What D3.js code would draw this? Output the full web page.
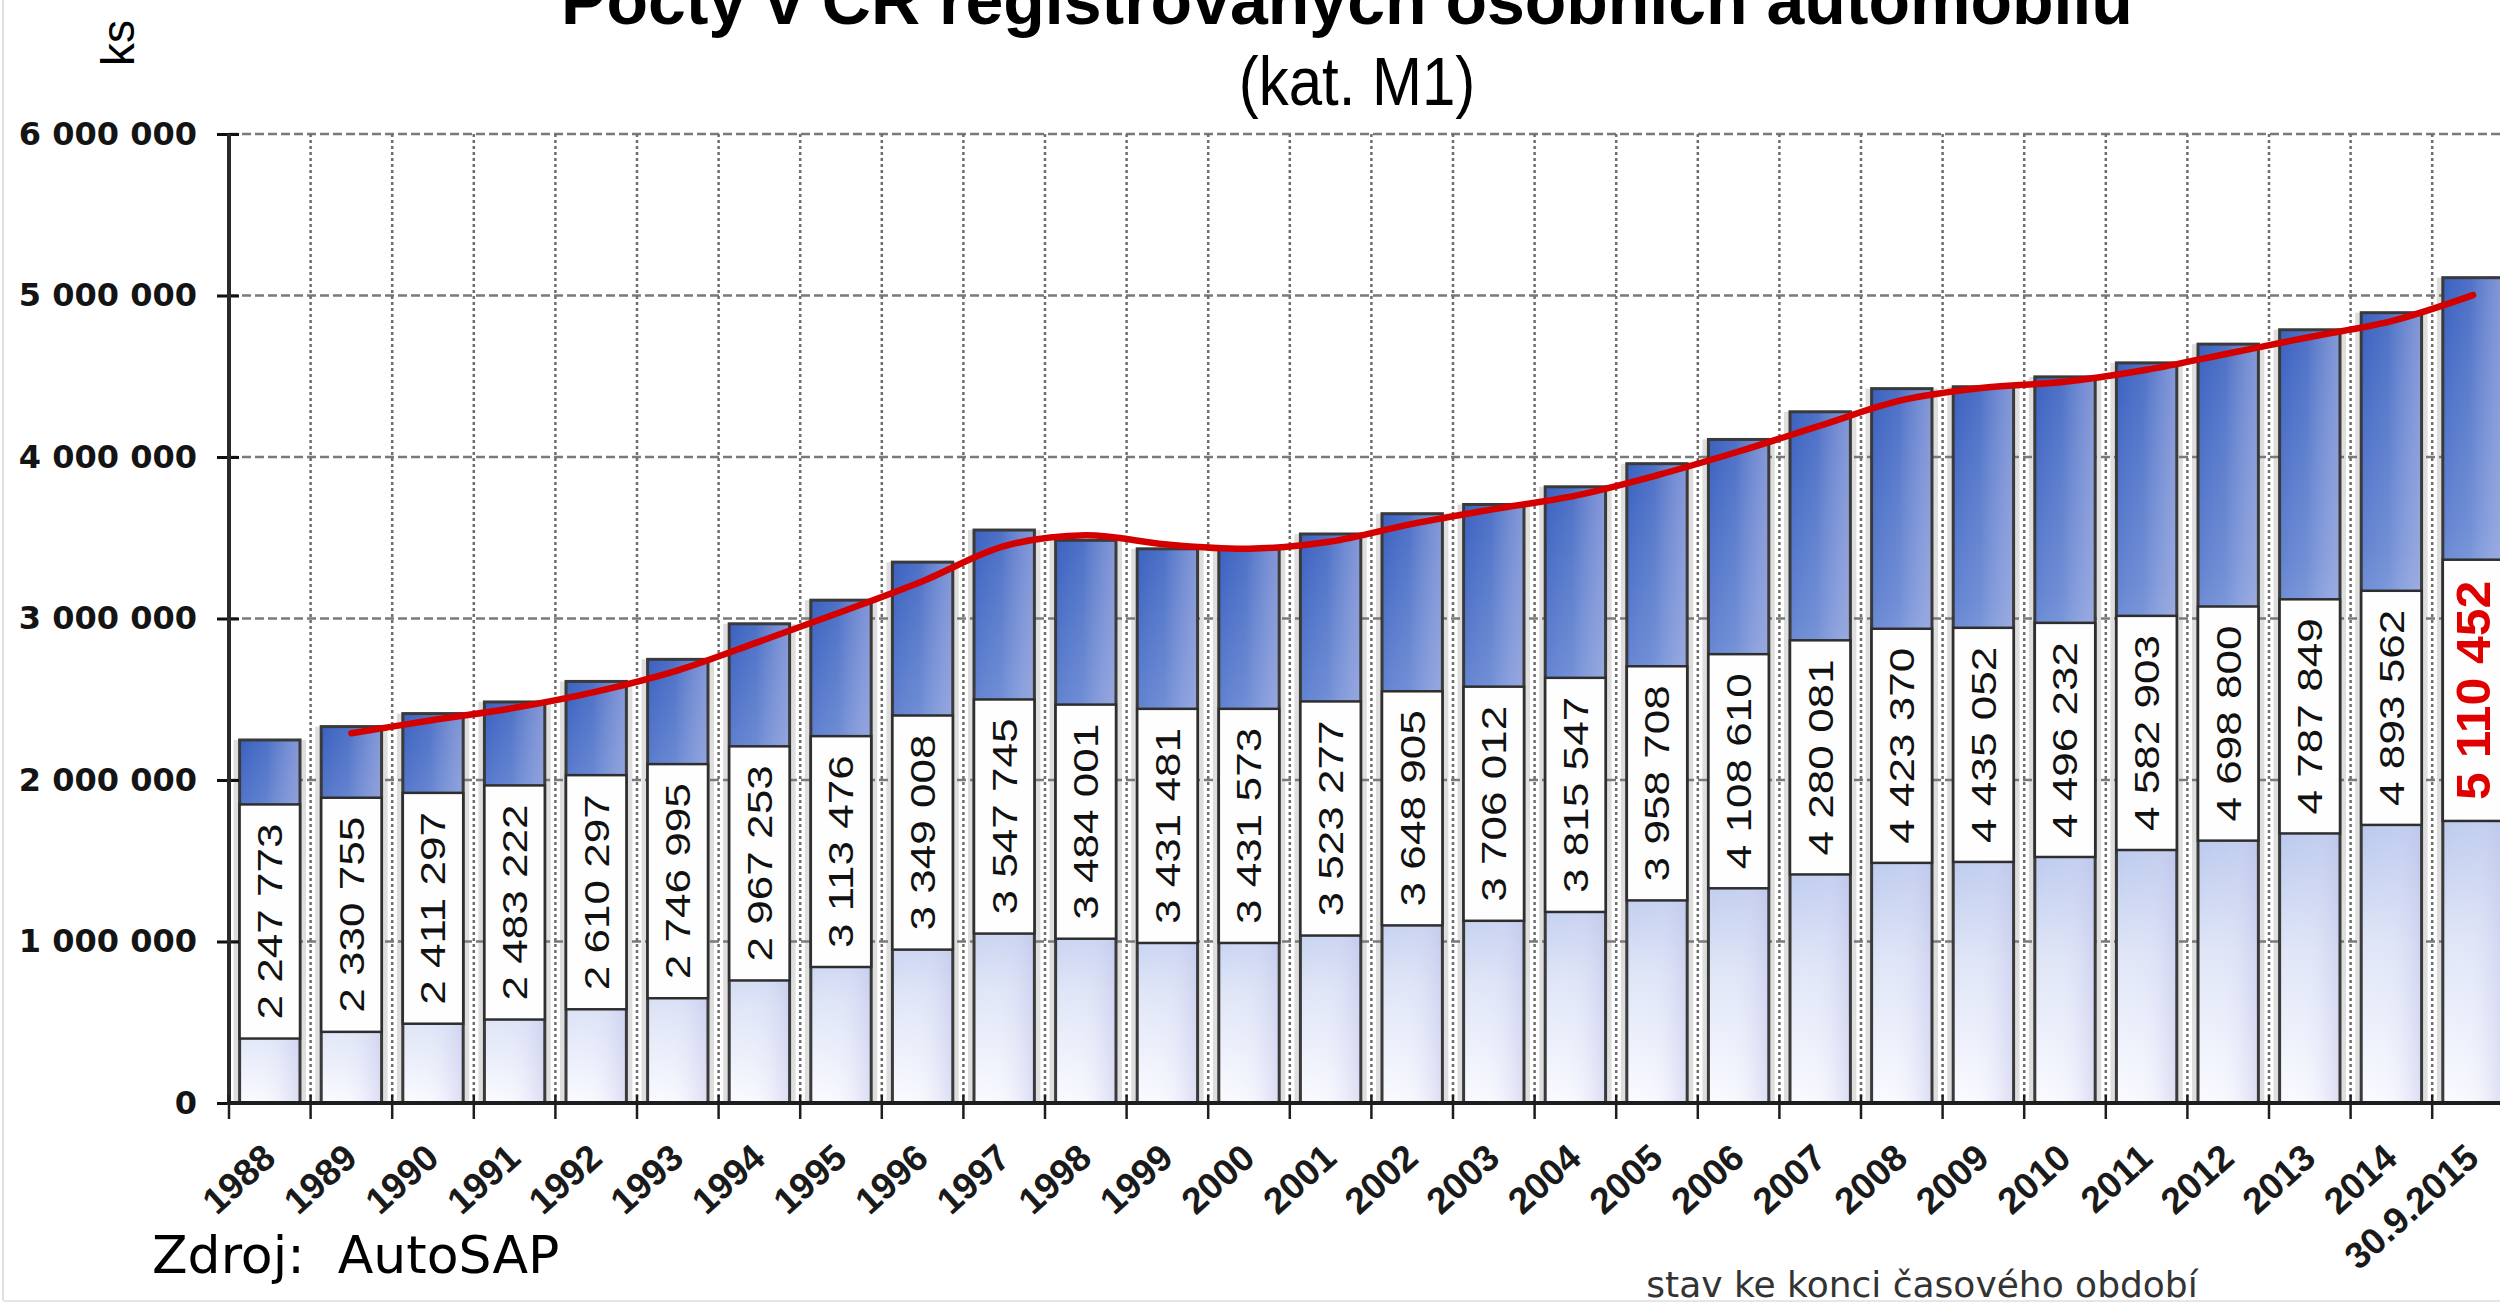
<!DOCTYPE html>
<html>
<head>
<meta charset="utf-8">
<script src="https://cdn.jsdelivr.net/npm/d3@7"></script>
<style>
  html, body { margin: 0; padding: 0; background: #ffffff; overflow: hidden; }
  svg { display: block; }
</style>
</head>
<body>
<svg id="chart" width="2500" height="1306"></svg>
<script>
// ---------- DATA ----------
const categories = ["1988","1989","1990","1991","1992","1993","1994","1995","1996","1997",
  "1998","1999","2000","2001","2002","2003","2004","2005","2006","2007","2008","2009",
  "2010","2011","2012","2013","2014","30.9.2015"];

const registeredCars = [2247773, 2330755, 2411297, 2483222, 2610297, 2746995, 2967253,
  3113476, 3349008, 3547745, 3484001, 3431481, 3431573, 3523277, 3648905, 3706012,
  3815547, 3958708, 4108610, 4280081, 4423370, 4435052, 4496232, 4582903, 4698800,
  4787849, 4893562, 5110452];

// red trend line (2-period moving average), 1989 .. 30.9.2015
const trendCategories = ["1989","1990","1991","1992","1993","1994","1995","1996","1997",
  "1998","1999","2000","2001","2002","2003","2004","2005","2006","2007","2008","2009",
  "2010","2011","2012","2013","2014","30.9.2015"];
const trendValues = [2289000, 2371000, 2447000, 2547000, 2679000, 2857000, 3040000,
  3231000, 3448000, 3516000, 3458000, 3432000, 3477000, 3586000, 3677000, 3761000,
  3887000, 4034000, 4194000, 4352000, 4429000, 4466000, 4540000, 4641000, 4743000,
  4841000, 5002000];

const yTickValues = [0, 1000000, 2000000, 3000000, 4000000, 5000000, 6000000];
const yTickLabels = ["0", "1 000 000", "2 000 000", "3 000 000", "4 000 000", "5 000 000", "6 000 000"];

const titleText = "Počty v ČR registrovaných osobních automobilů";
const subtitleText = "(kat. M1)";
const unitText = "ks";
const xAxisTitle = "stav ke konci časového období";
const sourceText = "Zdroj:  AutoSAP";

// ---------- CHART ----------
const svg = d3.select("#chart");
const W = 2500, H = 1306;
const plotLeft = 229, step = 81.6;
const plotRight = plotLeft + step * categories.length;
const plotTop = 134, plotBottom = 1103;

const x = d3.scaleBand().domain(categories).range([plotLeft, plotRight])
  .paddingInner(0.26).paddingOuter(0.13);
const y = d3.scaleLinear().domain([0, 6000000]).range([plotBottom, plotTop]);
const bw = x.bandwidth();
const half = (x.step() - bw) / 2;
const boundaries = categories.map(c => x(c) - half).concat([x(categories[categories.length - 1]) + bw + half]);

const fmt = v => d3.format(",")(v).replace(/,/g, " ");
const data = categories.map((c, i) => ({ c, v: registeredCars[i] }));

// defs
const defs = svg.append("defs");
const gV = defs.append("linearGradient").attr("id", "barV")
  .attr("x1", 0).attr("y1", 0).attr("x2", 0).attr("y2", 1);
[[0, "#3a61c0"], [0.3, "#6283d1"], [0.6, "#adbfea"], [0.8, "#dfe5f7"], [1, "#fafbff"]]
  .forEach(([o, c]) => gV.append("stop").attr("offset", o).attr("stop-color", c));
const gH = defs.append("linearGradient").attr("id", "barH")
  .attr("x1", 0).attr("y1", 0).attr("x2", 1).attr("y2", 0);
[[0, "#ffffff", 0], [0.45, "#e4e6f8", 0.12], [1, "#c2c4ea", 0.55]]
  .forEach(([o, c, op]) => gH.append("stop").attr("offset", o).attr("stop-color", c).attr("stop-opacity", op));

// frame
svg.append("line").attr("x1", 3).attr("x2", 3).attr("y1", 0).attr("y2", 1301)
  .attr("stroke", "#e0e0e0").attr("stroke-width", 2);
svg.append("line").attr("x1", 3).attr("x2", W).attr("y1", 1301).attr("y2", 1301)
  .attr("stroke", "#e6e6e6").attr("stroke-width", 2);

// bar glow (gray strip beside bars)
svg.append("g").selectAll("rect").data(data).join("rect")
  .attr("x", d => x(d.c) - 6).attr("width", bw + 12)
  .attr("y", d => y(d.v)).attr("height", d => y(0) - y(d.v))
  .attr("fill", "#dedede");

// horizontal grid
svg.append("g").selectAll("line").data(yTickValues.filter(v => v > 0)).join("line")
  .attr("x1", plotLeft).attr("x2", W + 20)
  .attr("y1", d => y(d)).attr("y2", d => y(d))
  .attr("stroke", "#7a7a7a").attr("stroke-width", 2.5).attr("stroke-dasharray", "9,4");

// vertical grid
svg.append("g").selectAll("line").data(boundaries.slice(1)).join("line")
  .attr("x1", d => d).attr("x2", d => d)
  .attr("y1", y(6000000)).attr("y2", y(0))
  .attr("stroke", "#6e6e6e").attr("stroke-width", 2.5).attr("stroke-dasharray", "3,3");

// bars
const bars = svg.append("g");
bars.selectAll("rect.b").data(data).join("rect").attr("class", "b")
  .attr("x", d => x(d.c)).attr("width", bw)
  .attr("y", d => y(d.v)).attr("height", d => y(0) - y(d.v))
  .attr("fill", "url(#barV)");
bars.selectAll("rect.h").data(data).join("rect").attr("class", "h")
  .attr("x", d => x(d.c)).attr("width", bw)
  .attr("y", d => y(d.v)).attr("height", d => y(0) - y(d.v))
  .attr("fill", "url(#barH)")
  .attr("stroke", "#3a3a3a").attr("stroke-width", 3);

// value labels in white boxes
const lastCat = categories[categories.length - 1];
const labelG = svg.append("g");
data.forEach(d => {
  const isLast = d.c === lastCat;
  const fs = isLast ? 48 : 35;
  const stretch = isLast ? 1.04 : 1.26;
  const cx = x(d.c) + bw / 2;
  const cy = y(d.v / 2);
  const box = labelG.append("rect");
  const t = labelG.append("text")
    .attr("transform", `translate(${cx},${cy}) scale(1,${stretch}) rotate(-90)`)
    .attr("text-anchor", "middle").attr("dominant-baseline", "central")
    .attr("font-family", "'Liberation Sans', Arial, sans-serif")
    .attr("font-size", fs).attr("font-weight", isLast ? "bold" : "normal")
    .attr("fill", isLast ? "#e00000" : "#111111")
    .text(fmt(d.v));
  const len = t.node().getComputedTextLength() * stretch;
  const bh = len + (isLast ? 42 : 38);
  box.attr("x", x(d.c)).attr("width", bw)
    .attr("y", cy - bh / 2).attr("height", bh)
    .attr("fill", "#fefefe").attr("stroke", "#2e2e2e").attr("stroke-width", 2.5);
});

// red trend line
const trend = trendCategories.map((c, i) => ({ c, v: trendValues[i] }));
svg.append("path").datum(trend)
  .attr("d", d3.line().x(d => x(d.c) + bw / 2).y(d => y(d.v)).curve(d3.curveCatmullRom.alpha(0.5)))
  .attr("fill", "none").attr("stroke", "#d40000").attr("stroke-width", 6.5)
  .attr("stroke-linecap", "round");

// y axis
const yAxis = svg.append("g").attr("transform", `translate(${plotLeft},0)`)
  .call(d3.axisLeft(y).tickValues(yTickValues).tickFormat((d, i) => yTickLabels[i])
    .tickSize(12).tickPadding(20));
yAxis.select(".domain").remove();
yAxis.selectAll(".tick line").attr("x1", -12).attr("x2", 10).attr("stroke", "#111").attr("stroke-width", 3);
yAxis.selectAll(".tick text").attr("x", -32)
  .attr("font-family", "'DejaVu Sans', Verdana, sans-serif").attr("font-weight", "bold")
  .attr("font-size", 32).attr("fill", "#141414");
svg.append("line").attr("x1", plotLeft).attr("x2", plotLeft).attr("y1", plotTop).attr("y2", plotBottom + 2)
  .attr("stroke", "#2a2a2a").attr("stroke-width", 4);

// x axis
const xAxis = svg.append("g").attr("transform", `translate(0,${plotBottom})`)
  .call(d3.axisBottom(x).tickSize(0).tickPadding(0));
xAxis.select(".domain").remove();
xAxis.selectAll(".tick text")
  .attr("text-anchor", "end").attr("dominant-baseline", "auto")
  .attr("transform", `translate(8,58) rotate(-42)`)
  .attr("x", 0).attr("y", 0).attr("dy", null)
  .attr("font-family", "'Liberation Sans', Arial, sans-serif").attr("font-weight", "bold")
  .attr("font-size", 37).attr("fill", "#1a1a1a");
svg.append("line").attr("x1", plotLeft).attr("x2", W).attr("y1", plotBottom).attr("y2", plotBottom)
  .attr("stroke", "#1e1e1e").attr("stroke-width", 4);
svg.append("g").selectAll("line").data(boundaries).join("line")
  .attr("x1", d => d).attr("x2", d => d)
  .attr("y1", plotBottom - 8).attr("y2", plotBottom + 16)
  .attr("stroke", "#1e1e1e").attr("stroke-width", 2.5);

// texts
svg.append("text").attr("x", 1347).attr("y", 24)
  .attr("text-anchor", "middle")
  .attr("font-family", "'Liberation Sans', Arial, sans-serif").attr("font-weight", "bold")
  .attr("font-size", 68).attr("fill", "#000")
  .text(titleText);
svg.append("text")
  .attr("transform", "translate(1357,105) scale(1,1.14)")
  .attr("text-anchor", "middle")
  .attr("font-family", "'Liberation Sans', Arial, sans-serif")
  .attr("font-size", 60).attr("fill", "#000")
  .text(subtitleText);
svg.append("text")
  .attr("transform", "translate(134,43) rotate(-90)")
  .attr("text-anchor", "middle")
  .attr("font-family", "'Liberation Sans', Arial, sans-serif")
  .attr("font-size", 46).attr("fill", "#000")
  .text(unitText);
svg.append("text")
  .attr("x", 1922).attr("y", 1297)
  .attr("text-anchor", "middle")
  .attr("font-family", "'DejaVu Sans', Verdana, sans-serif")
  .attr("font-size", 36).attr("fill", "#333")
  .text(xAxisTitle);
svg.append("text")
  .attr("x", 152).attr("y", 1273)
  .attr("font-family", "'DejaVu Sans', Verdana, sans-serif")
  .attr("font-size", 52).attr("fill", "#000")
  .style("white-space", "pre")
  .text(sourceText);
</script>
</body>
</html>
